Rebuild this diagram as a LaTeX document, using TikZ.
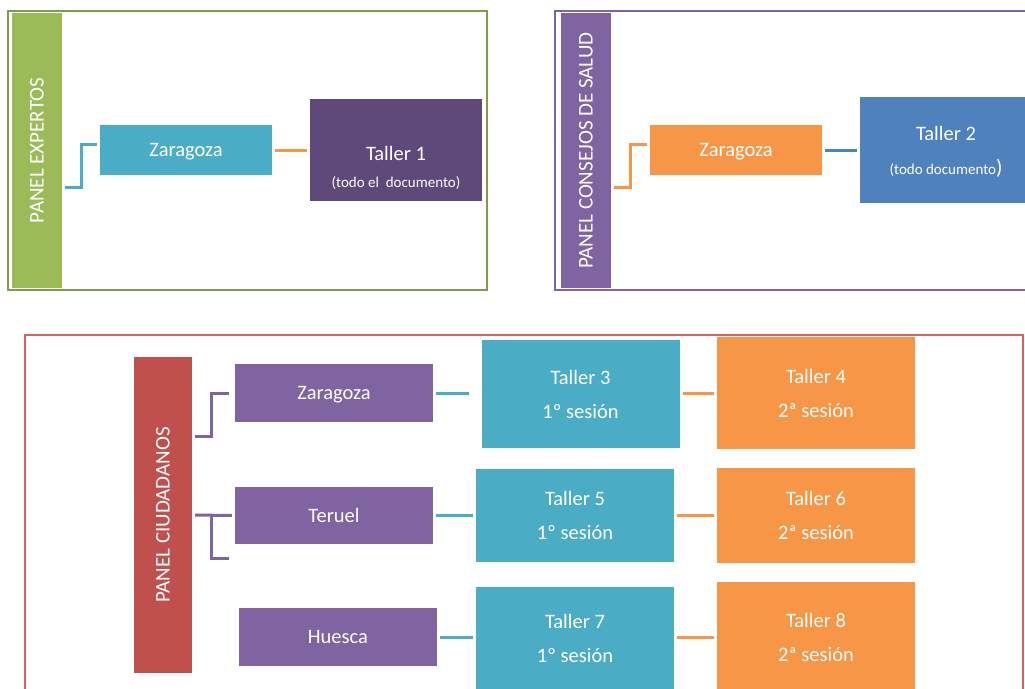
\documentclass[tikz,border=0pt]{standalone}
\usepackage{fontspec}
\setmainfont{Carlito}
\definecolor{greenbar}{HTML}{9BBB59}
\definecolor{greenfr}{HTML}{7F9D48}
\definecolor{cyanbox}{HTML}{4BACC6}
\definecolor{orangebox}{HTML}{F79646}
\definecolor{purpbox}{HTML}{8064A2}
\definecolor{darkpurp}{HTML}{5F497A}
\definecolor{bluebox}{HTML}{4F81BD}
\definecolor{redbar}{HTML}{C0504D}
\definecolor{redfr}{HTML}{D46163}

\begin{document}
\begin{tikzpicture}[x=1pt,y=-1pt,every node/.style={font=\fontsize{20.5}{34}\selectfont,text=white,align=center,inner sep=0pt},
box/.style={minimum width=172pt,minimum height=50pt,text depth=0pt},
tbox/.style={minimum width=198pt},
panel/.style={rotate=90,font=\fontsize{21}{21}\selectfont},
conn/.style={line width=3pt},
link/.style={conn,shorten <=3pt,shorten >=3pt},
frame/.style={line width=1.5pt}]
\useasboundingbox (0,0) rectangle (1025,688);
\clip (0,0) rectangle (1025,688);
\draw[frame,draw=greenfr] (8,11) rectangle (487,290);
\draw[frame,draw=purpbox] (555,11) rectangle (1040,290);
\draw[frame,draw=redfr] (25,335) rectangle (1023,700);
\node[panel,fill=greenbar,minimum width=275pt,minimum height=50pt] (pexp) at (37,150.5) {PANEL EXPERTOS};
\node[box,fill=cyanbox] (zar1) at (186,150) {Zaragoza};
\node[box,fill=darkpurp,minimum height=102pt] (t1) at (396,150) {};
\node (t1a) at ([yshift=-3pt]t1.center) {Taller 1};
\node[font=\fontsize{15}{18}\selectfont] (t1b) at ([yshift=-33pt]t1.center) {(todo el\ \ documento)};
\node[panel,fill=purpbox,minimum width=275pt,minimum height=50pt] (psal) at (586,150.5) {PANEL CONSEJOS DE SALUD};
\node[box,fill=orangebox] (zar2) at (736,150) {Zaragoza};
\node[box,fill=bluebox,minimum height=106pt] (t2) at (946,150) {Taller 2\\{\fontsize{15}{15}\selectfont(todo documento}{\fontsize{21}{21}\selectfont)}};
\coordinate (a1) at (65,187);
\coordinate (b1) at (614,187);
\draw[conn,cyanbox] (a1) -- ++(16,0) |- ([xshift=-3pt,yshift=6pt]zar1.west);
\draw[link,orangebox] (zar1) -- (t1);
\draw[conn,orangebox] (b1) -- ++(16,0) |- ([xshift=-3pt,yshift=6pt]zar2.west);
\draw[link,bluebox] (zar2.east) -- (zar2.east -| t2.west);
\node[panel,fill=redbar,minimum width=316pt,minimum height=58pt] (pciu) at (163,515) {PANEL CIUDADANOS};
\node[box,tbox,fill=purpbox,minimum height=58pt] (zar3) at (334,393) {Zaragoza};
\node[box,tbox,fill=purpbox,minimum height=57pt] (ter) at (334,515.5) {Teruel};
\node[box,tbox,fill=purpbox,minimum height=58pt] (hue) at (338,637) {Huesca};
\node[tbox,fill=cyanbox,minimum height=108pt] (t3) at (580.5,394) {Taller 3\\1º sesión};
\node[tbox,fill=orangebox,minimum height=112pt] (t4) at (816,393) {Taller 4\\2ª sesión};
\node[tbox,fill=cyanbox,minimum height=93pt] (t5) at (575,515.5) {Taller 5\\1º sesión};
\node[tbox,fill=orangebox,minimum height=95pt] (t6) at (816,515.5) {Taller 6\\2ª sesión};
\node[tbox,fill=cyanbox,minimum height=103pt] (t7) at (575,638.5) {Taller 7\\1º sesión};
\node[tbox,fill=orangebox,minimum height=110pt] (t8) at (816,637) {Taller 8\\2ª sesión};
\coordinate (c1) at (195,436);
\coordinate (c2) at (195,515);
\coordinate (c3) at (229,558);
\draw[conn,purpbox] (c1) -- ++(16,0) |- ([xshift=-6pt]zar3.west);
\draw[conn,purpbox] (c2) -- ([xshift=-3pt]ter.west);
\draw[conn,purpbox] (c2) ++(16,0) |- (c3);
\draw[conn,cyanbox,shorten <=3pt,shorten >=12pt] (zar3.east) -- (zar3.east -| t3.west);
\draw[link,cyanbox] (ter.east) -- (ter.east -| t5.west);
\draw[link,cyanbox] (hue.east) -- (hue.east -| t7.west);
\draw[link,orangebox] (t4.west -| t3.east) -- (t4.west);
\draw[link,orangebox] (t5.east) -- (t5.east -| t6.west);
\draw[link,orangebox] (t8.west -| t7.east) -- (t8.west);
\end{tikzpicture}
\end{document}
